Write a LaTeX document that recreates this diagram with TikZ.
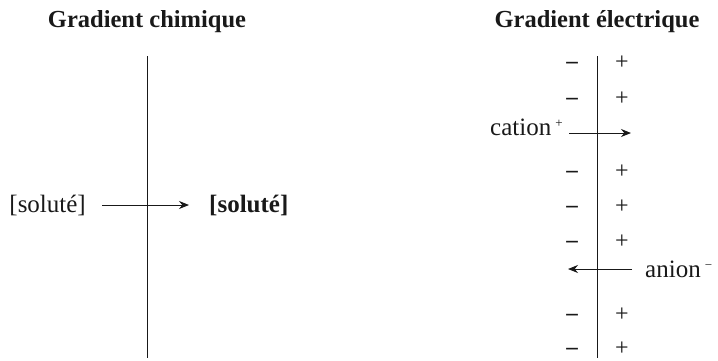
\documentclass[tikz,border=0pt]{standalone}
\usepackage{fontspec}
\setmainfont{Liberation Serif}
\usetikzlibrary{arrows.meta}
\begin{document}
\begin{tikzpicture}[x=1pt,y=-1pt,
  txt/.style={inner sep=0pt,anchor=base,font=\fontsize{25}{30}\selectfont,text=black!90},
  ttl/.style={txt,font=\fontsize{24.5}{30}\selectfont\bfseries},
  sgn/.style={inner sep=0pt,anchor=base,font=\fontsize{24}{26}\selectfont,text=black!90},
  memb/.style={line width=1pt,draw=black!90},
  flux/.style={line width=1pt,draw=black!90,-{Stealth[length=10pt,width=8pt]}}]
\useasboundingbox (0,0) rectangle (718,360);
% left panel
\node[ttl] (t1) at (147,27) {Gradient chimique};
\coordinate (m1a) at (147,56);
\coordinate (m1b) at (147,358);
\draw[memb] (m1a) -- (m1b);
\node[txt,anchor=base east] (s1) at (86,212) {[soluté]};
\node[txt,anchor=base west,font=\fontsize{25}{30}\selectfont\bfseries] (s2) at (209,212) {[soluté]};
\coordinate (a1) at (102,205);
\coordinate (a2) at (189,205);
\draw[flux] (a1) -- (a2);
% right panel
\node[ttl] (t2) at (597,27) {Gradient électrique};
\coordinate (m2a) at (597,56);
\coordinate (m2b) at (597,358);
\draw[memb] (m2a) -- (m2b);
\foreach \y [count=\i] in {63,99,172,207,242,315,349}{
  \node[sgn,font=\fontsize{23}{26}\selectfont\bfseries] (n\i) at (572,\y+5.5) {–};
  \node[sgn] (p\i) at (622,\y+6) {+};
}
\node[txt,anchor=base east] (cat) at (563,135) {cation\,{\fontsize{13}{16}\selectfont\raisebox{8pt}{+}}};
\coordinate (c1) at (569,133);
\coordinate (c2) at (631,133);
\draw[flux] (c1) -- (c2);
\node[txt,anchor=base west] (an) at (645,277) {anion\,{\fontsize{13}{16}\selectfont\raisebox{8pt}{−}}};
\coordinate (d1) at (632,269);
\coordinate (d2) at (568,269);
\draw[flux] (d1) -- (d2);
\end{tikzpicture}
\end{document}
